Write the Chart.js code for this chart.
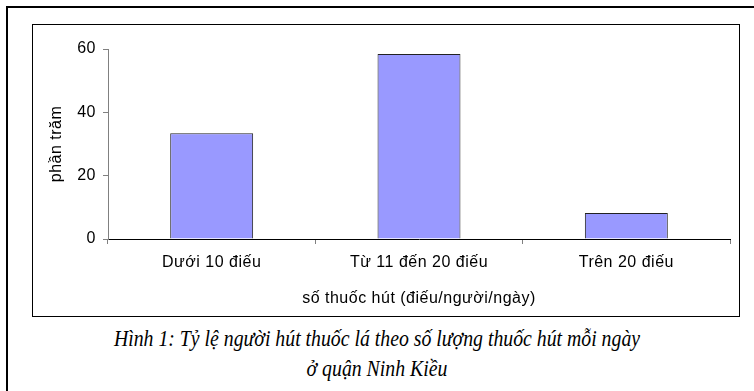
<!DOCTYPE html>
<html>
<head>
<meta charset="utf-8">
<script src="https://cdn.jsdelivr.net/npm/chart.js@4.4.1/dist/chart.umd.min.js"></script>
<style>
  html, body { margin: 0; padding: 0; background: #fff; width: 754px; height: 391px; overflow: hidden; }
  #frame { position: absolute; left: 6px; top: 6px; width: 900px; height: 600px;
           border-left: 2px solid #000; border-top: 2px solid #000; }
  #box { position: absolute; left: 32px; top: 24px; width: 708px; height: 293px;
         border: 1px solid #000; box-sizing: border-box; background: #fff; }
  #box canvas { display: block; }
  .cap { position: absolute; left: 0; width: 754px; text-align: center;
         font-family: "Liberation Serif", "Times New Roman", serif; font-style: italic;
         font-size: 23px; line-height: 28px; color: #000; white-space: nowrap;
         transform: scaleX(0.86); transform-origin: 377px 0; }
</style>
</head>
<body>
<div id="frame"></div>
<div id="box"><canvas id="c" width="706" height="291"></canvas></div>
<div class="cap" style="top:325px">Hình 1: Tỷ lệ người hút thuốc lá theo số lượng thuốc hút mỗi ngày</div>
<div class="cap" style="top:355px">ở quận Ninh Kiều</div>
<script>
// Number of cigarettes smoked per day, share of smokers (%)
const categories = ['Dưới 10 điếu', 'Từ 11 đến 20 điếu', 'Trên 20 điếu'];
const percentValues = [33.4, 58.4, 8.2];
const yTicks = [0, 20, 40, 60];
const yTitle = 'phần trăm';
const xTitle = 'số thuốc hút (điếu/người/ngày)';

const font = { family: 'Liberation Sans, Arial, sans-serif', size: 16 };

// Slightly looser letter spacing for all chart text
const spacing = {
  id: 'spacing',
  beforeDraw(chart) { chart.ctx.letterSpacing = '0.5px'; }
};

new Chart(document.getElementById('c'), {
  type: 'bar',
  plugins: [spacing],
  data: {
    labels: categories,
    datasets: [{
      data: percentValues,
      backgroundColor: '#9999ff',
      borderColor: '#222222',
      borderWidth: 1,
      categoryPercentage: 1,
      barPercentage: 0.4
    }]
  },
  options: {
    responsive: false,
    animation: false,
    devicePixelRatio: 1,
    layout: { padding: { top: 24, right: 9, bottom: 0, left: 0 } },
    plugins: { legend: { display: false }, tooltip: { enabled: false } },
    scales: {
      x: {
        grid: { offset: true, drawOnChartArea: false, tickLength: 5, color: '#808080' },
        border: { color: '#000', width: 1 },
        ticks: { color: '#000', font: font, padding: 9, maxRotation: 0 },
        title: { display: true, text: xTitle, color: '#000', font: font, padding: { top: 0, bottom: 8 } },
        afterFit: s => { s.height = 77; }
      },
      y: {
        min: 0, max: 60,
        afterBuildTicks: s => { s.ticks = yTicks.map(v => ({ value: v })); },
        grid: { drawOnChartArea: false, tickLength: 5, color: '#808080' },
        border: { color: '#808080', width: 1 },
        ticks: { color: '#000', font: font, padding: 7 },
        title: { display: true, text: yTitle, color: '#000', font: font, padding: { top: 14, bottom: 0 } },
        afterFit: s => { s.width = 75; }
      }
    }
  }
});
</script>
</body>
</html>
